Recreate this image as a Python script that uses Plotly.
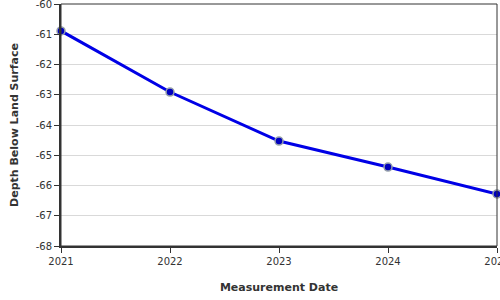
import plotly.graph_objects as go

years = [2021, 2022, 2023, 2024, 2025]
depth = [-60.89, -62.91, -64.53, -65.39, -66.28]
x_ticks = [2021, 2022, 2023, 2024, 2025]
y_ticks = [-68, -67, -66, -65, -64, -63, -62, -61, -60]

fig = go.Figure()
fig.add_trace(go.Scatter(
    x=years, y=depth, mode="lines+markers",
    line=dict(color="rgb(0,0,230)", width=3),
    marker=dict(size=8, color="rgb(0,0,190)", line=dict(color="rgb(150,160,170)", width=1.5)),
    cliponaxis=False, showlegend=False,
))

fig.update_layout(
    width=500, height=300,
    margin=dict(l=61, r=3, t=4, b=54),
    paper_bgcolor="white", plot_bgcolor="white",
    font=dict(family="DejaVu Sans", size=10, color="#333"),
    xaxis=dict(
        range=[2021, 2025], tickvals=x_ticks, ticktext=[str(v) for v in x_ticks],
        showgrid=False, zeroline=False, ticklabeloverflow="allow", automargin=False,
        showline=True, linecolor="#333", linewidth=2,
        ticks="outside", ticklen=5, tickcolor="#333", tickwidth=1,
        title=dict(text="<b>Measurement Date</b>", font=dict(size=11, color="#333"), standoff=17),
    ),
    yaxis=dict(
        range=[-68, -60], tickvals=y_ticks, ticktext=[str(v) for v in y_ticks],
        showgrid=True, gridcolor="#d9d9d9", gridwidth=1, zeroline=False, ticklabeloverflow="allow",
        automargin=False,
        showline=True, linecolor="#333", linewidth=2,
        ticks="outside", ticklen=5, tickcolor="#333", tickwidth=1,
        title=dict(text="<b>Depth Below Land Surface</b>", font=dict(size=11, color="#333"), standoff=15),
    ),
    shapes=[dict(type="rect", xref="paper", yref="paper", x0=0, x1=1, y0=0, y1=1,
                 line=dict(color="#333", width=1), layer="above")],
)

fig.write_html("out.html")
